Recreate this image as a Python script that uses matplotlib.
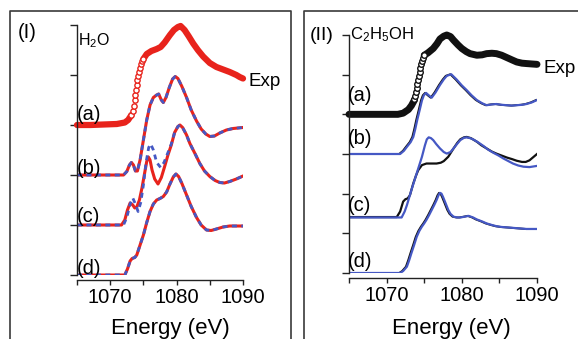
import numpy as np
import matplotlib
matplotlib.use("Agg")
import matplotlib.pyplot as plt
from matplotlib import transforms
from matplotlib.lines import Line2D

plt.rcParams['font.family'] = ['Liberation Sans', 'DejaVu Sans']
plt.rcParams['mathtext.fontset'] = 'custom'
plt.rcParams['mathtext.rm'] = 'Liberation Sans'
plt.rcParams['mathtext.it'] = 'Liberation Sans:italic'

RED = '#e8231c'
BLUE = '#4558c4'
BLACK = '#111111'

# ---------------- (I) H2O ----------------
# experiment: flat start, steep rise (open circles), top part
h2o_low_e = [1065.0, 1067.0, 1069.0, 1071.0, 1072.2, 1072.7, 1073.2]
h2o_low_v = [3.0, 3.0, 3.01, 3.02, 3.05, 3.1, 3.2]
h2o_rise_e = [1073.2, 1073.4, 1073.55, 1073.7, 1073.8, 1073.9, 1074.0, 1074.1,
              1074.2, 1074.3, 1074.45, 1074.6, 1074.8, 1075.0]
h2o_rise_v = [3.2, 3.28, 3.38, 3.5, 3.6, 3.7, 3.8, 3.9,
              3.98, 4.06, 4.14, 4.22, 4.28, 4.32]
h2o_high_e = [1075.0, 1075.5, 1076.2, 1077.0, 1077.6, 1078.2, 1079.0, 1079.6,
              1080.2, 1080.6, 1081.2, 1081.8, 1082.5, 1083.2, 1084.0, 1085.0,
              1086.0, 1087.0, 1088.0, 1089.0, 1089.5, 1090.0]
h2o_high_v = [4.32, 4.42, 4.48, 4.52, 4.56, 4.65, 4.8, 4.9,
              4.96, 4.98, 4.9, 4.78, 4.63, 4.5, 4.37, 4.24,
              4.16, 4.11, 4.06, 4.0, 3.96, 3.93]

# calc curve on baseline 2 (red + blue dashed overlap)
h2o_a_e = [1065.0, 1072.0, 1072.5, 1072.9, 1073.2, 1073.5, 1073.8, 1074.1, 1074.5,
           1075.0, 1075.5, 1076.0, 1076.5, 1077.0, 1077.3, 1077.7, 1078.0, 1078.4,
           1078.9, 1079.4, 1079.8, 1080.2, 1080.8, 1081.5, 1082.2, 1083.0, 1083.7,
           1084.4, 1085.0, 1085.7, 1086.5, 1087.5, 1088.5, 1090.0]
h2o_a_v = [2.0, 2.0, 2.07, 2.2, 2.25, 2.2, 2.08, 2.08, 2.3,
           2.7, 3.1, 3.4, 3.55, 3.6, 3.62, 3.5, 3.45, 3.55,
           3.75, 3.92, 3.97, 3.93, 3.77, 3.55, 3.3, 3.08, 2.92,
           2.82, 2.77, 2.78, 2.84, 2.9, 2.93, 2.95]

# calc curves on baseline 1
h2o_b_red_e = [1065.0, 1071.7, 1072.2, 1072.6, 1073.0, 1073.4, 1073.7, 1074.0, 1074.4,
               1074.8, 1075.2, 1075.5, 1075.75, 1076.0, 1076.3, 1076.7, 1077.2, 1077.7,
               1078.2, 1078.7, 1079.2, 1079.7, 1080.2, 1080.5, 1080.9, 1081.5, 1082.0,
               1082.8, 1083.5, 1084.2, 1085.0, 1085.8, 1086.5, 1087.2, 1088.0, 1089.0, 1090.0]
h2o_b_red_v = [1.0, 1.0, 1.1, 1.3, 1.44, 1.4, 1.34, 1.36, 1.5,
               1.75, 2.05, 2.27, 2.36, 2.3, 2.1, 1.92, 1.82, 1.95,
               2.17, 2.4, 2.6, 2.85, 2.97, 3.0, 2.95, 2.8, 2.63,
               2.42, 2.23, 2.08, 1.97, 1.89, 1.85, 1.84, 1.87, 1.92, 1.98]
h2o_b_blue_e = [1065.0, 1072.0, 1072.5, 1073.0, 1073.4, 1073.8, 1074.2, 1074.6, 1075.0,
                1075.4, 1075.8, 1076.1, 1076.5, 1077.0, 1077.6, 1078.1, 1078.7, 1079.2,
                1079.7, 1080.2, 1080.5, 1080.9, 1081.5, 1082.0, 1082.8, 1083.5, 1084.2,
                1085.0, 1085.8, 1086.5, 1087.2, 1088.0, 1089.0, 1090.0]
h2o_b_blue_v = [1.0, 1.0, 1.15, 1.42, 1.54, 1.42, 1.27, 1.45, 1.8,
                2.25, 2.55, 2.62, 2.5, 2.25, 2.15, 2.25, 2.45, 2.62,
                2.85, 2.97, 3.0, 2.95, 2.8, 2.63, 2.42, 2.23, 2.08,
                1.97, 1.89, 1.85, 1.84, 1.87, 1.92, 1.98]

# calc curve on baseline 0
h2o_d_e = [1065.0, 1072.2, 1072.6, 1073.0, 1073.3, 1073.7, 1074.0, 1074.5, 1075.0,
           1075.5, 1076.0, 1076.5, 1077.0, 1077.5, 1078.0, 1078.5, 1079.0, 1079.5,
           1079.9, 1080.3, 1080.8, 1081.5, 1082.2, 1083.0, 1083.7, 1084.5, 1085.2,
           1086.0, 1087.0, 1088.0, 1089.0, 1090.0]
h2o_d_v = [0.0, 0.0, 0.12, 0.28, 0.33, 0.35, 0.4, 0.6, 0.8,
           1.05, 1.27, 1.42, 1.5, 1.53, 1.57, 1.66, 1.82, 1.96,
           2.02, 1.97, 1.83, 1.6, 1.37, 1.15, 1.0, 0.9, 0.89,
           0.92, 0.96, 0.98, 0.98, 0.98]

# ---------------- (II) C2H5OH ----------------
eth_low_e = [1065.0, 1068.0, 1071.5, 1072.2, 1072.9, 1073.3, 1073.7]
eth_low_v = [4.0, 4.0, 4.0, 4.03, 4.12, 4.22, 4.36]
eth_rise_e = [1073.7, 1073.8, 1073.9, 1074.0, 1074.1, 1074.2, 1074.3, 1074.4,
              1074.5, 1074.6, 1074.7, 1074.85, 1075.0]
eth_rise_v = [4.38, 4.46, 4.56, 4.66, 4.76, 4.86, 4.96, 5.06,
              5.16, 5.26, 5.35, 5.43, 5.49]
eth_high_e = [1075.0, 1075.5, 1076.2, 1076.7, 1077.1, 1077.6, 1078.0, 1078.5, 1078.9,
              1079.5, 1080.0, 1080.6, 1081.1, 1082.0, 1082.7, 1083.3, 1084.0, 1084.6,
              1085.3, 1086.0, 1086.7, 1087.3, 1088.0, 1088.6, 1089.3, 1090.0]
eth_high_v = [5.49, 5.55, 5.66, 5.78, 5.9, 5.97, 6.0, 5.96, 5.87,
              5.75, 5.66, 5.58, 5.53, 5.49, 5.5, 5.53, 5.54, 5.53,
              5.49, 5.43, 5.37, 5.32, 5.29, 5.28, 5.27, 5.26]

eth_a_e = [1065.0, 1071.8, 1072.3, 1072.7, 1073.2, 1073.55, 1073.8, 1074.1, 1074.4,
           1074.7, 1074.95, 1075.25, 1075.6, 1076.0, 1076.5, 1077.1, 1077.6, 1078.0,
           1078.6, 1079.3, 1080.0, 1080.65, 1081.3, 1082.0, 1082.7, 1083.3, 1084.0,
           1084.6, 1085.3, 1086.0, 1086.7, 1087.3, 1088.0, 1088.6, 1089.3, 1090.0]
eth_a_v = [3.0, 3.0, 3.08, 3.18, 3.3, 3.43, 3.62, 3.88, 4.11,
           4.35, 4.48, 4.54, 4.48, 4.42, 4.55, 4.74, 4.88, 4.97,
           5.01, 4.88, 4.73, 4.61, 4.48, 4.36, 4.28, 4.23, 4.25,
           4.26, 4.24, 4.23, 4.22, 4.23, 4.24, 4.26, 4.3, 4.36]

eth_c_blue_e = [1065.0, 1072.0, 1072.4, 1072.7, 1073.0, 1073.3, 1073.65, 1074.0, 1074.35,
                1074.7, 1075.1, 1075.35, 1075.6, 1075.9, 1076.2, 1076.6, 1077.1, 1077.6,
                1078.0, 1078.5, 1078.9, 1079.4, 1079.8, 1080.3, 1080.65, 1081.1, 1081.5,
                1082.2, 1082.9, 1083.5, 1084.2, 1084.9, 1085.5, 1086.2, 1086.8, 1087.5,
                1088.2, 1089.0, 1090.0]
eth_c_blue_v = [1.4, 1.4, 1.55, 1.71, 1.9, 2.09, 2.3, 2.51, 2.72,
                2.93, 3.22, 3.37, 3.42, 3.4, 3.35, 3.25, 3.14, 3.05,
                3.01, 3.05, 3.14, 3.26, 3.35, 3.41, 3.42, 3.4, 3.37,
                3.29, 3.2, 3.11, 3.03, 2.96, 2.89, 2.82, 2.76, 2.71,
                2.68, 2.67, 2.7]
eth_c_black_e = [1065.0, 1071.35, 1071.8, 1072.2, 1072.5, 1072.8, 1073.1, 1073.55, 1073.9,
                 1074.2, 1074.7, 1075.3, 1076.0, 1076.65, 1077.2, 1077.6, 1078.2, 1078.9,
                 1079.4, 1079.8, 1080.3, 1080.65, 1081.2, 1082.0, 1082.6, 1083.3, 1084.0,
                 1084.6, 1085.3, 1086.0, 1086.7, 1087.3, 1088.0, 1088.5, 1089.0, 1089.5, 1090.0]
eth_c_black_v = [1.41, 1.41, 1.55, 1.8, 1.86, 1.88, 1.96, 2.26, 2.45,
                 2.59, 2.72, 2.76, 2.76, 2.76, 2.78, 2.82, 2.93, 3.14,
                 3.28, 3.37, 3.42, 3.43, 3.4, 3.31, 3.22, 3.14, 3.06,
                 3.01, 2.96, 2.91, 2.87, 2.83, 2.8, 2.8, 2.84, 2.92, 3.0]

eth_d_e = [1065.0, 1071.8, 1072.2, 1072.7, 1073.0, 1073.3, 1073.65, 1074.0, 1074.35,
           1074.7, 1075.0, 1075.3, 1075.65, 1076.0, 1076.35, 1076.65, 1076.9, 1077.1,
           1077.3, 1077.5, 1077.8, 1078.2, 1078.5, 1078.9, 1079.4, 1079.8, 1080.4,
           1080.9, 1081.5, 1082.0, 1082.7, 1083.3, 1084.0, 1084.6, 1085.3, 1086.0,
           1087.3, 1088.6, 1090.0]
eth_d_v = [0.0, 0.0, 0.05, 0.16, 0.32, 0.5, 0.7, 0.91, 1.06,
           1.17, 1.25, 1.34, 1.46, 1.59, 1.72, 1.84, 1.96, 2.02,
           2.0, 1.92, 1.78, 1.59, 1.49, 1.42, 1.4, 1.4, 1.42,
           1.44, 1.4, 1.35, 1.3, 1.25, 1.21, 1.18, 1.16, 1.15,
           1.13, 1.11, 1.11]

tick_pos = [1065, 1070, 1075, 1080, 1085, 1090]
tick_lab = ['', '1070', '', '1080', '', '1090']

W, H = 578, 339
fig = plt.figure(figsize=(W / 100, H / 100), dpi=100)


def box(px0, py0, pw, ph):
    return [px0 / W, 1 - (py0 + ph) / H, pw / W, ph / H]


ax1 = fig.add_axes(box(77, 25, 166, 250))
ax2 = fig.add_axes(box(349, 35, 188, 238))


def style(ax, ntop):
    ax.set_xlim(1065, 1090)
    ax.set_ylim(0, ntop)
    for s in ['top', 'right']:
        ax.spines[s].set_visible(False)
    ax.spines['bottom'].set_position(('outward', 3.6))
    for s in ['left', 'bottom']:
        ax.spines[s].set_linewidth(1.0)
        ax.spines[s].set_color('#222222')
    ax.set_yticks(range(ntop + 1))
    ax.set_yticklabels([])
    ax.set_xticks(tick_pos)
    ax.set_xticklabels(tick_lab)
    ax.tick_params(axis='y', direction='out', length=5, width=1.0, color='#222222')
    ax.tick_params(axis='x', direction='out', length=3.8, width=1.0, color='#222222',
                   labelsize=14.5, pad=2)
    ax.set_facecolor('none')


style(ax1, 5)
style(ax2, 6)

# --- panel I
ax1.plot(h2o_low_e, h2o_low_v, color=RED, lw=4.5, solid_capstyle='round', clip_on=False)
ax1.plot(h2o_high_e, h2o_high_v, color=RED, lw=4.5, solid_capstyle='round', clip_on=False)
ax1.plot(h2o_rise_e, h2o_rise_v, 'o', ms=3.8, mfc='white', mec=RED, mew=1.0, clip_on=False)

for e, v in [(h2o_a_e, h2o_a_v), (h2o_d_e, h2o_d_v)]:
    ax1.plot(e, v, color=RED, lw=2.2)
    ax1.plot(e, v, color=BLUE, lw=2.0, ls=(0, (1.8, 1.6)))
ax1.plot(h2o_b_red_e, h2o_b_red_v, color=RED, lw=2.2)
ax1.plot(h2o_b_blue_e, h2o_b_blue_v, color=BLUE, lw=2.0, ls=(0, (1.8, 1.6)))

for lab, v in [('(a)', 3.2), ('(b)', 2.14), ('(c)', 1.16), ('(d)', 0.14)]:
    ax1.text(1065.0, v, lab, fontsize=14.5, va='center', ha='left')
ax1.text(1065.1, 4.68, 'H$_2$O', fontsize=11.5, va='center', ha='left')
ax1.text(1090.8, 3.88, 'Exp', fontsize=13.5, va='center', ha='left')
ax1.set_xlabel('Energy (eV)', fontsize=16)
ax1.xaxis.set_label_coords(0.56, -0.172)

# --- panel II
shift = transforms.offset_copy(ax2.transData, fig=fig, x=-1.0, y=0, units='dots')
ax2.plot(eth_low_e, eth_low_v, color=BLACK, lw=5, solid_capstyle='round', clip_on=False)
ax2.plot(eth_high_e, eth_high_v, color=BLACK, lw=5, solid_capstyle='round', clip_on=False)
ax2.plot(eth_rise_e, eth_rise_v, 'o', ms=4.0, mfc='white', mec=BLACK, mew=1.0, clip_on=False)

ax2.plot(eth_a_e, eth_a_v, color=BLACK, lw=1.4, transform=shift)
ax2.plot(eth_a_e, eth_a_v, color=BLUE, lw=1.6)
ax2.plot(eth_c_black_e, eth_c_black_v, color=BLACK, lw=1.6)
ax2.plot(eth_c_blue_e, eth_c_blue_v, color=BLUE, lw=1.6)
ax2.plot(eth_d_e, eth_d_v, color=BLACK, lw=1.4, transform=shift)
ax2.plot(eth_d_e, eth_d_v, color=BLUE, lw=1.6)

for lab, v in [('(a)', 4.48), ('(b)', 3.38), ('(c)', 1.71), ('(d)', 0.28)]:
    ax2.text(1064.8, v, lab, fontsize=14.5, va='center', ha='left')
ax2.text(1065.1, 6.0, 'C$_2$H$_5$OH', fontsize=12, va='center', ha='left')
ax2.text(1090.9, 5.16, 'Exp', fontsize=13.5, va='center', ha='left')
ax2.set_xlabel('Energy (eV)', fontsize=16)
ax2.xaxis.set_label_coords(0.543, -0.189)

# panel tags
fig.text(18 / W, 1 - 32 / H, '(I)', fontsize=14.5, va='center', ha='left')
fig.text(310 / W, 1 - 35 / H, '(II)', fontsize=14, va='center', ha='left')

# frames around panels
fc = '#3a3a3a'
for xs, ys in [([10, 10, 291, 291], [H + 5, 11, 11, H + 5]),
               ([304, 304, W + 5], [H + 5, 11, 11])]:
    fig.add_artist(Line2D([x / W for x in xs], [1 - y / H for y in ys],
                          transform=fig.transFigure, color=fc, lw=1.2))

fig.savefig('out.png', dpi=100)
